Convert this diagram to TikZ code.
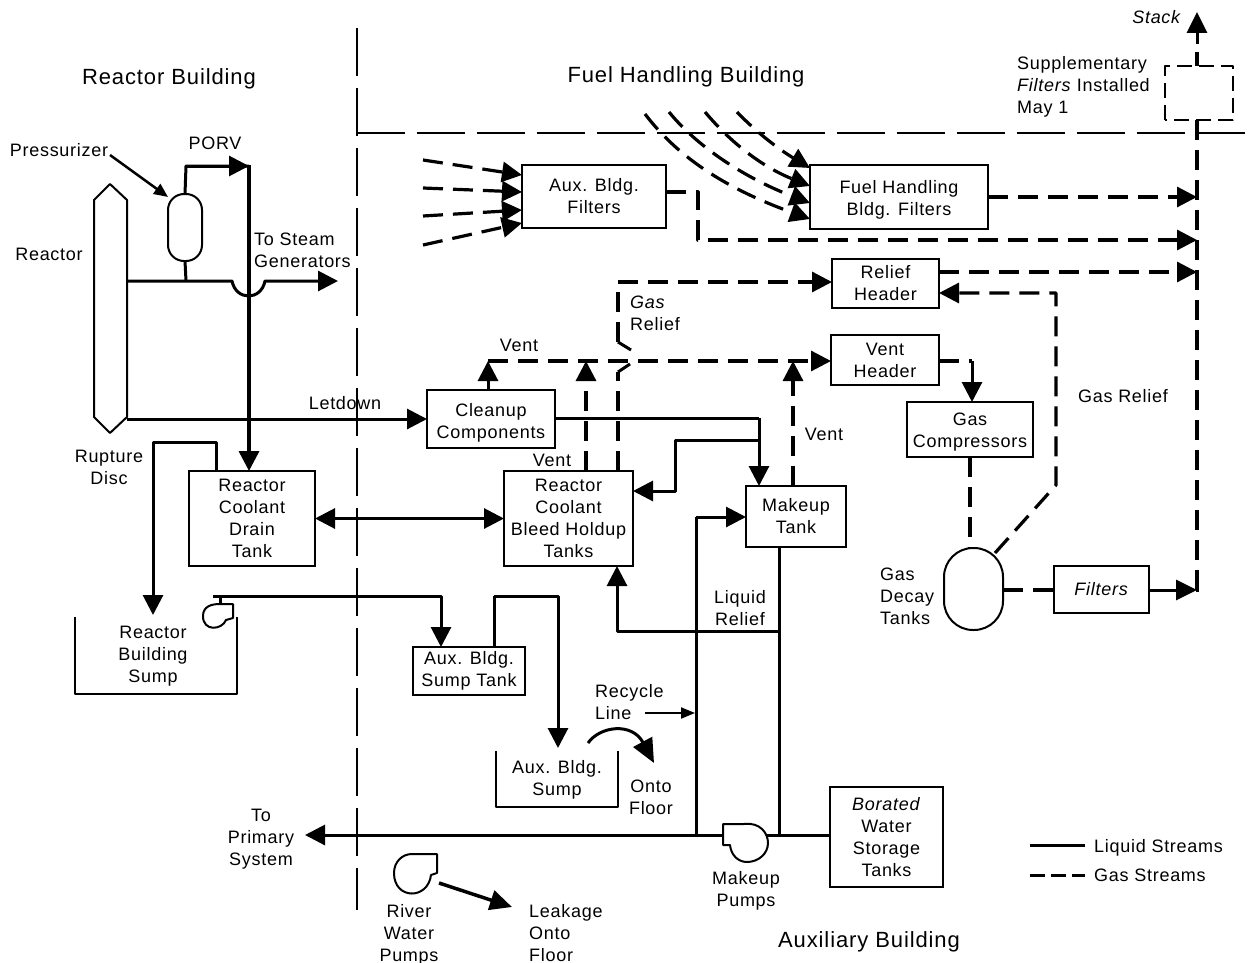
\documentclass[tikz,border=0pt]{standalone}
\usepackage{fontspec}
\setmainfont{Liberation Sans}
\usetikzlibrary{arrows.meta,calc}
\tikzset{
  x=1pt,y=-1pt,
  box/.style={draw,line width=2pt,outer sep=0pt,inner sep=0pt,align=center,font=\body},
  lbl/.style={inner sep=0pt,align=center,font=\body},
  lbll/.style={inner sep=0pt,align=left,anchor=west,font=\body},
  head/.style={inner sep=0pt,font=\headf},
  liq/.style={line width=3pt,line join=round},
  liqa/.style={liq,-{Triangle[length=20pt,width=20pt]}},
  gas/.style={line width=3.2pt,dash pattern=on 20pt off 10pt,line join=round},
  gasa/.style={gas,-{Triangle[length=20pt,width=20pt]}},
  gass/.style={gas,-{Triangle[length=20pt,width=20pt]}},
  divide/.style={line width=1.6pt,dash pattern=on 48pt off 12pt},
  thina/.style={line width=2pt,-{Triangle[length=14pt,width=11pt]}},
  outline/.style={line width=2pt,line join=round},
}
\newcommand{\body}{\fontsize{18}{21.9}\selectfont\addfontfeature{LetterSpace=4}}
\newcommand{\headf}{\fontsize{22}{26}\selectfont\addfontfeature{LetterSpace=4}}
\newcommand{\dn}[1]{\rule{0pt}{#1pt}}
\begin{document}
\begin{tikzpicture}
\useasboundingbox (0,0) rectangle (1250,963);
% dividers
\coordinate (dv1) at (357,28); \coordinate (dv2) at (357,910);
\coordinate (dh1) at (357,133); \coordinate (dh2) at (1245,133);
\draw[divide] (dv1) -- (dv2);
\draw[divide] (dh1) -- (dh2);
% boxes
\node[box,minimum width=144,minimum height=63] (auxf) at (594,196.5) {Aux. Bldg.\\Filters};
\node[box,minimum width=178,minimum height=64] (fhf) at (899,197) {\dn{18}Fuel Handling\\Bldg. Filters};
\node[box,minimum width=107,minimum height=49] (relief) at (885.5,283.5) {Relief\\Header};
\node[box,minimum width=108,minimum height=50] (venth) at (885,360) {Vent\\Header};
\node[box,minimum width=126,minimum height=55] (comp) at (970,429.5) {\dn{18}Gas\\Compressors};
\node[box,minimum width=128,minimum height=58] (clean) at (491,419) {\dn{20}Cleanup\\Components};
\node[box,minimum width=129,minimum height=95] (bleed) at (568.5,518.5) {Reactor\\Coolant\\Bleed Holdup\\Tanks};
\node[box,minimum width=100,minimum height=61] (mk) at (796,516.5) {Makeup\\Tank};
\node[box,minimum width=126,minimum height=95] (drain) at (252,518.5) {Reactor\\Coolant\\Drain\\Tank};
\node[box,minimum width=112,minimum height=48] (sumpt) at (469,671) {Aux. Bldg.\\Sump Tank};
\node[box,minimum width=113,minimum height=100] (bwst) at (886.5,837) {\textit{Borated}\\Water\\Storage\\Tanks};
\node[box,minimum width=95,minimum height=47] (filt) at (1101.5,589.5) {\textit{Filters}};
\node[box,draw=none,minimum width=68,minimum height=54] (supp) at (1199,93) {};
\node[box,draw=none,minimum width=33,minimum height=249] (reactor) at (110.5,308.5) {};
\node[box,rounded corners=16pt,minimum width=34,minimum height=67] (przr) at (185,227.5) {};
\node[box,rounded corners=29pt,minimum width=59,minimum height=82] (decay) at (973.5,589) {};
% supplementary filter outline (dashed)
\draw[line width=2.2pt,dash pattern=on 15pt off 7pt,line join=round] (supp.south west) rectangle (supp.north east);
% reactor vessel
\draw[outline] (110,184) -- (127,200) -- (127,417) -- (110,433) -- (94,417) -- (94,200) -- cycle;
% open sumps
\coordinate (rs1) at (75,617); \coordinate (rs2) at (75,694); \coordinate (rs3) at (237,694); \coordinate (rs4) at (237,617);
\draw[outline] (rs1) -- (rs2) -- (rs3) -- (rs4);
\coordinate (as1) at (496,751); \coordinate (as2) at (496,807); \coordinate (as3) at (618,807); \coordinate (as4) at (618,751);
\draw[outline] (as1) -- (as2) -- (as3) -- (as4);
% reactor building piping
\draw[liq] (przr.north) -- (186,166) -- (249,166);
\draw[line width=3.5pt] (249,165) -- (249,296);
\draw[line width=3.5pt,-{Triangle[length=20pt,width=20pt]}] (249,296) -- (drain.north -| 249,0);
\draw[-{Triangle[length=20pt,width=20pt]},line width=3pt] (186,166) -- (249,166);
\draw[liq] (przr.south) -- (186,281);
\draw[liqa] (127,281) -- (232,281) .. controls (236,301) and (261,301) .. (265,281) -- (338,281);
\draw[liqa] (127,419) -- (clean.west |- 0,419);
\draw[line width=2.5pt,-{Triangle[length=14pt,width=12pt]}] (110,155) -- (168,197);
\draw[liqa] (drain.north -| 216,0) -- (216,442) -- (153,442) -- (153,615);
\draw[{Triangle[length=20pt,width=20pt]}-{Triangle[length=20pt,width=20pt]},liq] (drain.east) -- (bleed.west);
% sump pump
\draw[outline] (233,604) -- (233,618) -- (226,620) .. controls (222,630) and (203,632) .. (203,616) .. controls (203,606) and (212,604) .. (220,604) -- cycle;
\draw[liq] (220,604) -- (220,596);
\draw[liqa] (213,596) -- (441,596) -- (sumpt.north -| 441,0);
\draw[liq] (sumpt.north -| 494,0) -- (494,596);
\draw[liqa] (494,596) -- (558,596) -- (558,748);
% aux sump overflow
\draw[line width=3pt,-{Triangle[length=24pt,width=21pt]}] (588,743) .. controls (600,726) and (632,722) .. (654,763);
% main header
\draw[liq] (bwst.west |- 0,835) -- (350,835);
\draw[liqa] (350,835) -- (305,835);
\draw[liq] (696,835) -- (696,517);
\draw[liqa] (696,517) -- (mk.west |- 0,517);
\draw[liq] (779,835) -- (mk.south -| 779,0);
\draw[liqa] (779,631) -- (617,631) -- (bleed.south -| 617,0);
\draw[thina] (645,713) -- (695,713);
% cleanup to makeup
\draw[liq] (clean.east |- 0,418) -- (759,418);
\draw[liqa] (759,418) -- (mk.north -| 759,0);
\draw[liqa] (759,440) -- (675,440) -- (675,491) -- (bleed.east |- 0,491);
% pumps
\draw[outline,fill=white] (723,824) -- (744,824) .. controls (760,822) and (768,833) .. (768,843) .. controls (768,854) and (758,862) .. (747,862) .. controls (738,862) and (731,855) .. (730,845) -- (723,845) -- cycle;
\draw[outline] (437,854) -- (437,873) -- (431,875) .. controls (428,900) and (394,900) .. (394,873) .. controls (394,862) and (402,854) .. (412,854) -- cycle;
\draw[line width=3.5pt,-{Triangle[length=22pt,width=20pt]}] (439,883) -- (512,907);
% gas: left inlets
\foreach \ya/\yb in {160/175,188/192,216/210,245/223}{
  \draw[gass] (423,\ya) -- (auxf.west |- 0,\yb);
}
% gas: fuel handling inlets
\draw[gass] (737,112) .. controls (757,133) and (780,150) .. (fhf.west |- 0,168);
\draw[gass] (705,112) .. controls (737,150) and (770,170) .. (fhf.west |- 0,186);
\draw[gass] (669,112) .. controls (700,150) and (750,180) .. (fhf.west |- 0,203);
\draw[gass] (645,114) .. controls (680,160) and (730,190) .. (fhf.west |- 0,219);
% gas: outlets to stack
\coordinate (st) at (1197,197);
\draw[gasa] (fhf.east |- st) -- (st);
\draw[gasa] (auxf.east |- 0,192) -- (698,192) -- (698,240) -- (1197,240);
\draw[gasa] (relief.east |- 0,272) -- (1197,272);
\draw[gas] (1197,590) -- (1197,120);
\draw[line width=3pt,-{Triangle[length=21pt,width=20pt]}] (1149,590) -- (1197,590);
\draw[line width=3pt] (1197,591.5) -- (1197,570);
\draw[gas] (supp.north -| 1197,0) -- (1197,52);
\draw[line width=3pt,-{Triangle[length=21pt,width=20pt]}] (1197,44) -- (1197,12);
% gas relief
\draw[gasa] (decay.north east) ++(-8,5) -- (1056,485) -- (1056,293) -- (relief.east |- 0,293);
\draw[gasa] (618,342) -- (618,282) -- (relief.west |- 0,282);
\draw[line width=3pt] (631,350) -- (618,342);
\draw[gas] (bleed.north -| 618,0) -- (618,372);
\draw[line width=3pt] (618,372) -- (630,364);
% vent
\draw[line width=3pt,-{Triangle[length=20pt,width=20pt]}] (clean.north -| 488,0) -- (488,361);
\draw[gasa] (488,361) -- (venth.west |- 0,361);
\draw[gasa] (bleed.north -| 586,0) -- (586,361);
\draw[gasa] (mk.north -| 793,0) -- (793,361);
\draw[gas] (venth.east |- 0,361) -- (972,361);
\draw[line width=3pt,-{Triangle[length=20pt,width=20pt]}] (972,361) -- (comp.north -| 972,0);
\draw[gas] (comp.south) -- (comp.south |- decay.north);
\draw[gas] (decay.east |- 0,590) -- (filt.west |- 0,590);
% legend
\coordinate (lg1) at (1030,845); \coordinate (lg2) at (1085,845);
\coordinate (lg3) at (1030,875); \coordinate (lg4) at (1085,875);
\draw[line width=3pt] (lg1) -- (lg2);
\draw[line width=3pt,dash pattern=on 15pt off 6pt] (lg3) -- (lg4);
% labels
\node[head] (t1) at (169,79) {Reactor Building};
\node[head] (t2) at (686,77) {Fuel Handling Building};
\node[head] (t3) at (869,942) {Auxiliary Building};
\node[lbl] (l1) at (59,150) {Pressurizer};
\node[lbl] (l2) at (215,143) {PORV};
\node[lbl] (l3) at (49,254) {Reactor};
\node[lbll] (l4) at (254,250) {To Steam\\Generators};
\node[lbl] (l5) at (345,403) {Letdown};
\node[lbl] (l6) at (109,467) {Rupture\\Disc};
\node[lbll] (l7) at (630,313) {\textit{Gas}\\Relief};
\node[lbl] (l8) at (519,345) {Vent};
\node[lbl] (l9) at (552,460) {Vent};
\node[lbl] (l10) at (824,434) {Vent};
\node[lbl] (l11) at (1123,396) {Gas Relief};
\node[lbll] (l12) at (880,596) {Gas\\Decay\\Tanks};
\node[lbl] (l13) at (740,608) {Liquid\\Relief};
\node[lbll] (l14) at (595,702) {Recycle\\Line};
\node[lbl] (l15) at (651,797) {Onto\\Floor};
\node[lbl] (l16) at (261,839) {To\\Primary\\System};
\node[lbl] (l17) at (746,891) {Makeup\\Pumps};
\node[lbl] (l18) at (409,935) {River\\Water\\Pumps};
\node[lbll] (l19) at (529,933) {Leakage\\Onto\\Floor};
\node[lbl] (l20) at (1157,17) {\textit{Stack}};
\node[lbll] (l21) at (1017,87) {Supplementary\\\textit{Filters} Installed\\May 1};
\node[lbl] (l22) at (153,656) {Reactor\\Building\\Sump};
\node[lbl] (l23) at (557,780) {Aux. Bldg.\\Sump};
\node[lbll] (l24) at (1094,848) {Liquid Streams};
\node[lbll] (l25) at (1094,875) {Gas Streams};
\end{tikzpicture}
\end{document}
